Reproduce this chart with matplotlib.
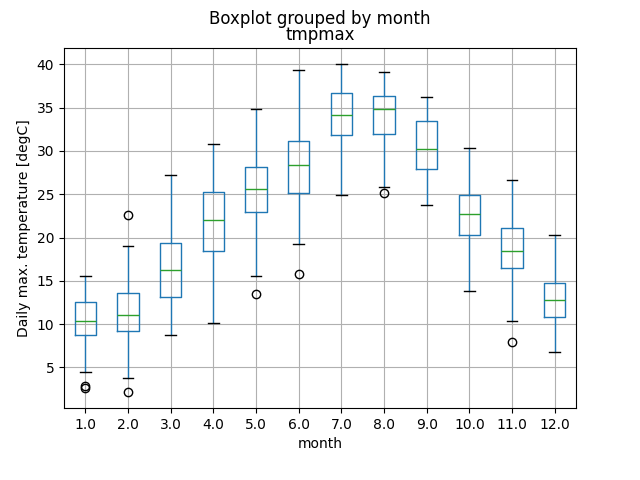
import matplotlib
matplotlib.use("Agg")
from matplotlib import pyplot as plt

# Box statistics per month
months = [1.0, 2.0, 3.0, 4.0, 5.0, 6.0, 7.0, 8.0, 9.0, 10.0, 11.0, 12.0]
whis_lo = [4.5, 3.8, 8.7, 10.1, 15.5, 19.2, 24.9, 25.8, 23.8, 13.8, 10.4, 6.8]
q1 = [8.7, 9.2, 13.1, 18.4, 23.0, 25.1, 31.8, 31.9, 27.9, 20.3, 16.5, 10.8]
median = [10.4, 11.1, 16.2, 22.0, 25.6, 28.4, 34.1, 34.9, 30.2, 22.7, 18.5, 12.8]
q3 = [12.5, 13.6, 19.4, 25.3, 28.2, 31.2, 36.7, 36.4, 33.5, 24.9, 21.1, 14.7]
whis_hi = [15.5, 19.0, 27.2, 30.8, 34.9, 39.4, 40.0, 39.1, 36.2, 30.3, 26.6, 20.3]
fliers = [[2.6, 2.9], [2.2, 22.6], [], [], [13.5], [15.8], [], [25.1], [], [], [7.9], []]


def main():
    fig, ax = plt.subplots(figsize=(6.4, 4.8), dpi=100)
    fig.subplots_adjust(bottom=0.15, top=0.9, left=0.1, right=0.9)

    stats = []
    for i, m in enumerate(months):
        stats.append(dict(label=f"{m:.1f}", whislo=whis_lo[i], q1=q1[i], med=median[i],
                          q3=q3[i], whishi=whis_hi[i], fliers=fliers[i]))

    ax.bxp(
        stats,
        positions=range(1, len(months) + 1),
        widths=0.5,
        boxprops=dict(color="#1f77b4"),
        whiskerprops=dict(color="#1f77b4"),
        medianprops=dict(color="#2ca02c"),
        capprops=dict(color="k"),
        flierprops=dict(marker="o", markerfacecolor="none", markeredgecolor="k"),
    )

    ax.grid(True)
    ax.set_title("tmpmax")
    fig.suptitle("Boxplot grouped by month")
    ax.set_xlabel("month")
    ax.set_ylabel("Daily max. temperature [degC]")

    plt.savefig("out.png")


if __name__ == "__main__":
    main()
